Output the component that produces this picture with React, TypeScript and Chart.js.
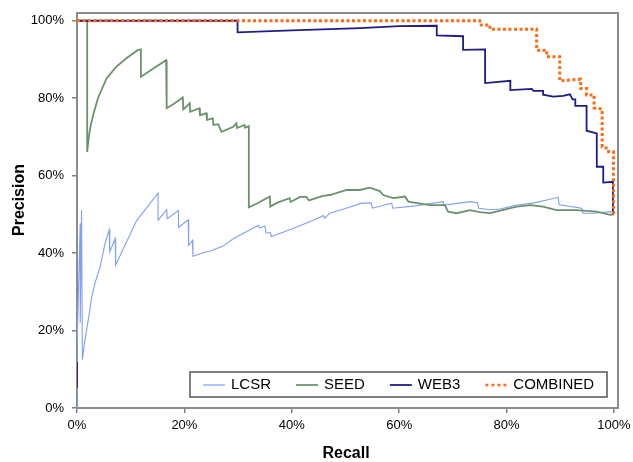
import React, { useEffect, useRef } from "react";
import { Chart, registerables } from "chart.js";

Chart.register(...registerables);

// Recall (%) and precision (%)
const LCSR_RECALL = [0, 0, 0.6, 0.6, 0.85, 1.0, 1.4, 2.3, 2.7, 3.4, 4.3, 5.2, 6.0, 6.1, 7.1, 7.2, 11.1, 15.1, 15.1, 16.7, 16.8, 18.9, 18.9, 20.7, 20.8, 21.5, 21.6, 22.4, 23.5, 25, 27.2, 29.1, 31.5, 33.8, 34.0, 35.0, 35.2, 36.0, 36.2, 40, 44, 45.9, 46.1, 47.1, 50, 53.0, 54.8, 55.0, 58.6, 58.8, 63, 68.2, 68.4, 73.2, 74.6, 74.8, 76.9, 78.8, 81.9, 85.0, 88.1, 89.6, 89.8, 94.0, 94.2, 96.1, 99.3, 100];
const LCSR_PRECISION = [0, 15.5, 47.7, 22, 51.1, 12.5, 16.8, 24.5, 28.4, 32.5, 36.4, 42.4, 46.0, 40.3, 43.7, 36.9, 48.4, 55.5, 48.5, 51.2, 48.9, 51.0, 46.6, 48.6, 42.0, 43.3, 39.2, 39.6, 40.1, 40.6, 41.8, 43.7, 45.5, 47.2, 46.5, 47.0, 45.2, 45.3, 44.3, 46.2, 48.5, 49.7, 49.0, 50.3, 51.5, 52.9, 52.9, 51.6, 52.9, 51.6, 52.2, 53.3, 52.4, 53.3, 53.0, 51.6, 51.2, 51.4, 52.4, 52.9, 53.9, 54.4, 52.5, 51.6, 50.3, 50.3, 50.7, 50.5];

const SEED_RECALL = [0, 1.9, 1.9, 2.2, 2.5, 3.0, 3.9, 5.5, 7.3, 9.2, 11.3, 11.9, 11.9, 14, 16.6, 16.7, 18, 19.7, 19.8, 21.0, 21.1, 22.8, 22.9, 24.1, 24.2, 25.3, 25.4, 26.3, 26.9, 29.1, 29.7, 29.8, 31.2, 31.3, 32.0, 32.0, 33.5, 35.9, 36.0, 37.1, 39.6, 39.8, 41.5, 42.7, 43.2, 45.8, 47.1, 50.2, 52.7, 54.5, 56.4, 57.0, 58.9, 61.1, 61.7, 65.7, 68.5, 69.1, 70.7, 73.2, 75, 76.9, 81.9, 84.4, 86.8, 89.3, 93.0, 96.8, 99.3, 100];
const SEED_PRECISION = [100, 100, 66.1, 70, 72.6, 75.6, 80.0, 85.1, 88.1, 90.3, 92.4, 92.6, 85.5, 87.5, 89.8, 77.4, 78.5, 80.2, 77.1, 78.7, 76.5, 77.4, 75.6, 76.1, 74.4, 74.8, 73.1, 73.3, 71.3, 72.6, 73.5, 72.3, 73.1, 72.4, 72.8, 51.8, 52.8, 54.6, 52.0, 52.9, 54.2, 53.2, 54.5, 54.5, 53.6, 54.8, 55.0, 56.3, 56.3, 56.9, 56.0, 55.0, 54.2, 54.6, 53.3, 52.4, 52.4, 50.7, 50.3, 51.1, 50.6, 50.3, 52.0, 52.4, 52.0, 51.1, 51.1, 50.7, 49.9, 50];

const WEB3_RECALL = [0, 0, 0, 0, 29.9, 29.9, 40, 52.7, 60, 67.0, 67.0, 71.9, 71.9, 76.0, 76.0, 80.7, 80.7, 84.7, 85.0, 86.8, 86.8, 88.7, 90.5, 91.8, 92.3, 92.8, 92.8, 94.9, 94.9, 96.8, 96.8, 98.0, 98.0, 99.8, 99.8];
const WEB3_PRECISION = [5.2, 11.9, null, 100, 100, 97.0, 97.5, 98.1, 98.6, 98.7, 96.2, 96.0, 92.5, 92.6, 83.9, 84.5, 82.1, 82.4, 81.9, 81.9, 80.9, 80.4, 80.6, 81.0, 79.7, 79.7, 78.0, 78.0, 71.6, 70.9, 62.3, 62.3, 58.2, 58.4, 50];

const COMBINED_RECALL = [0, 75.0, 75.0, 76.9, 76.9, 85.6, 85.6, 87.5, 87.5, 89.9, 89.9, 93.8, 93.8, 94.9, 94.9, 96.3, 96.3, 97.8, 97.8, 99.0, 99.0, 99.9, 99.9];
const COMBINED_PRECISION = [100, 100, 98.9, 98.9, 97.8, 97.8, 92.4, 92.4, 90.7, 90.7, 84.5, 84.9, 82.5, 82.5, 80.8, 80.8, 77.5, 77.2, 67.4, 67.0, 66.2, 66.2, 50];

const TICK_VALUES = [0, 20, 40, 60, 80, 100];
const SERIES_NAMES = ["LCSR", "SEED", "WEB3", "COMBINED"];
const X_TITLE = "Recall";
const Y_TITLE = "Precision";

const FONT = "'Liberation Sans', Arial, sans-serif";
const COLORS = ["#7f9ff8", "#6c926c", "#1d1d8a", "#ff6a14"];

const toPoints = (xs: number[], ys: (number | null)[]) => xs.map((x, i) => ({ x, y: ys[i] }));

export default function App() {
  const ref = useRef<HTMLCanvasElement | null>(null);

  useEffect(() => {
    const canvas = ref.current;
    if (!canvas) return;

    const framePlugin = {
      id: "frame",
      beforeDatasetsDraw(chart: any) {
        const { ctx, chartArea } = chart;
        ctx.save();
        ctx.strokeStyle = "#8c8c8c";
        ctx.lineWidth = 2;
        ctx.strokeRect(chartArea.left, chartArea.top, chartArea.right - chartArea.left, chartArea.bottom - chartArea.top);
        ctx.restore();
      },
      afterDraw(chart: any) {
        const { ctx } = chart;
        ctx.save();
        // axis titles
        ctx.fillStyle = "#000";
        ctx.font = `bold 16px ${FONT}`;
        ctx.textAlign = "center";
        ctx.textBaseline = "middle";
        ctx.fillText(X_TITLE, 346, 454);
        ctx.save();
        ctx.translate(20, 200);
        ctx.rotate(-Math.PI / 2);
        ctx.fillText(Y_TITLE, 0, 0);
        ctx.restore();

        // legend box
        const bx = 190, by = 372, bw = 417, bh = 25;
        ctx.fillStyle = "#fff";
        ctx.fillRect(bx, by, bw, bh);
        ctx.strokeStyle = "#555";
        ctx.lineWidth = 1.5;
        ctx.strokeRect(bx, by, bw, bh);
        ctx.font = `15px ${FONT}`;
        ctx.textAlign = "left";
        ctx.textBaseline = "middle";
        let x = 203;
        const cy = by + bh / 2 + 0.5;
        SERIES_NAMES.forEach((name, i) => {
          ctx.beginPath();
          ctx.strokeStyle = COLORS[i];
          ctx.lineWidth = i === 0 ? 1.2 : i === 3 ? 2.5 : 1.8;
          ctx.setLineDash(i === 3 ? [3, 3] : []);
          ctx.moveTo(x, cy);
          ctx.lineTo(x + 22, cy);
          ctx.stroke();
          ctx.setLineDash([]);
          ctx.fillStyle = "#000";
          ctx.fillText(name, x + 28, cy);
          x += 28 + ctx.measureText(name).width + 25;
        });
        ctx.restore();
      },
    };

    const setTicks = (scale: any) => {
      scale.ticks = TICK_VALUES.map((v) => ({ value: v }));
    };

    const chart = new Chart(canvas, {
      type: "line",
      data: {
        datasets: [
          { label: SERIES_NAMES[0], data: toPoints(LCSR_RECALL, LCSR_PRECISION), borderColor: COLORS[0], borderWidth: 1.1, order: 3 },
          { label: SERIES_NAMES[1], data: toPoints(SEED_RECALL, SEED_PRECISION), borderColor: COLORS[1], borderWidth: 1.8, order: 2 },
          { label: SERIES_NAMES[2], data: toPoints(WEB3_RECALL, WEB3_PRECISION), borderColor: COLORS[2], borderWidth: 1.8, order: 1 },
          { label: SERIES_NAMES[3], data: toPoints(COMBINED_RECALL, COMBINED_PRECISION), borderColor: COLORS[3], borderWidth: 3, borderDash: [3, 2.5], order: 0 },
        ] as any,
      },
      options: {
        animation: false,
        responsive: false,
        devicePixelRatio: 1,
        spanGaps: false,
        elements: { point: { radius: 0 }, line: { tension: 0, fill: false } },
        layout: { padding: { left: 0, top: 13, right: 15, bottom: 0 } },
        plugins: { legend: { display: false }, tooltip: { enabled: false }, title: { display: false } },
        scales: {
          x: {
            type: "linear",
            min: 0,
            max: 100.75,
            afterBuildTicks: setTicks,
            afterFit: (s: any) => { s.height = 54; s.paddingLeft = 0; s.paddingRight = 0; },
            grid: { display: true, drawOnChartArea: false, drawTicks: true, tickLength: 5, color: "#808080", lineWidth: 1.5 },
            border: { display: false },
            ticks: { color: "#000", padding: 5, maxRotation: 0, autoSkip: false, font: { family: FONT, size: 13 }, callback: (v: any) => `${v}%` },
          },
          y: {
            type: "linear",
            min: 0,
            max: 102,
            afterBuildTicks: setTicks,
            afterFit: (s: any) => { s.width = 77; s.paddingTop = 0; s.paddingBottom = 0; },
            grid: { display: true, drawOnChartArea: false, drawTicks: true, tickLength: 5, color: "#808080", lineWidth: 1.5 },
            border: { display: false },
            ticks: { color: "#000", padding: 8, autoSkip: false, font: { family: FONT, size: 13 }, callback: (v: any) => `${v}%` },
          },
        },
      } as any,
      plugins: [framePlugin],
    });

    return () => chart.destroy();
  }, []);

  return (
    <div style={{ position: "absolute", left: 0, top: 0, width: 633, height: 462, background: "#fff" }}>
      <canvas ref={ref} width={633} height={462} style={{ display: "block" }} />
    </div>
  );
}
